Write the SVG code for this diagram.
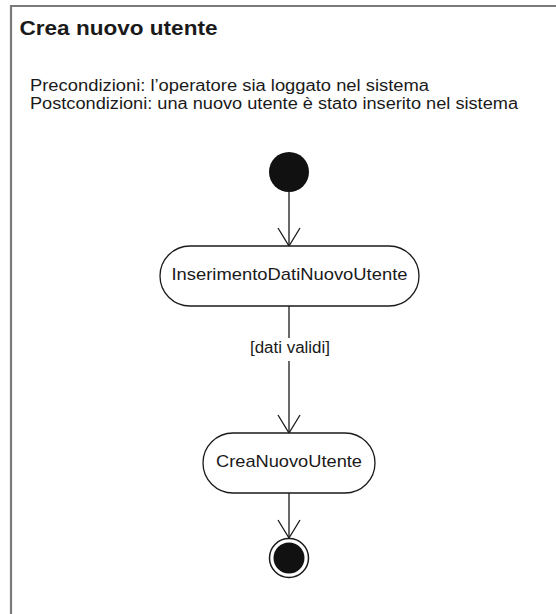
<svg xmlns="http://www.w3.org/2000/svg" width="556" height="614" viewBox="0 0 556 614">
  <style>
    text { font-family: "Liberation Sans", Arial, sans-serif; fill: #1a1a1a; }
    .title { font-size: 19.5px; font-weight: bold; }
    .note { font-size: 16px; }
    .act { fill: #ffffff; stroke: #1a1a1a; stroke-width: 1.3; }
    .actlabel { font-size: 17px; text-anchor: middle; }
    .edge { fill: none; stroke: #1a1a1a; stroke-width: 1.3; marker-end: url(#open); }
    .guard { font-size: 16px; text-anchor: middle; }
  </style>
  <defs>
    <marker id="open" markerUnits="userSpaceOnUse" markerWidth="24" markerHeight="26" viewBox="-20 -13 24 26" refX="0" refY="0" orient="auto" overflow="visible">
      <path d="M-18,-11 L0,0 L-18,11" fill="none" stroke="#1a1a1a" stroke-width="1.3"/>
    </marker>
  </defs>

  <rect width="556" height="614" fill="#ffffff"/>

  <!-- diagram frame -->
  <g id="frame">
    <path d="M11,614 V6 H556" fill="none" stroke="#7a7a7a" stroke-width="2.2"/>
    <text class="title" x="19.5" y="35" textLength="198" lengthAdjust="spacingAndGlyphs">Crea nuovo utente</text>
    <text class="note" x="30" y="90.5" textLength="399" lengthAdjust="spacingAndGlyphs">Precondizioni: l’operatore sia loggato nel sistema</text>
    <text class="note" x="30" y="109" textLength="488" lengthAdjust="spacingAndGlyphs">Postcondizioni: una nuovo utente è stato inserito nel sistema</text>
  </g>

  <!-- control flows -->
  <g id="edges">
    <path class="edge" d="M289,192 V246"/>
    <path class="edge" d="M289,306 V433"/>
    <rect x="248" y="338" width="84" height="23" fill="#ffffff"/>
    <text class="guard" x="290" y="353" textLength="80" lengthAdjust="spacingAndGlyphs">[dati validi]</text>
    <path class="edge" d="M289,493 V538"/>
  </g>

  <g id="initial">
    <circle cx="289" cy="172" r="20" fill="#111111"/>
  </g>

  <g id="inserimentoDati">
    <rect class="act" x="160" y="246" width="259" height="60" rx="30" ry="30"/>
    <text class="actlabel" x="289.5" y="280" textLength="236" lengthAdjust="spacingAndGlyphs">InserimentoDatiNuovoUtente</text>
  </g>

  <g id="creaUtente">
    <rect class="act" x="203" y="433" width="172" height="60" rx="30" ry="30"/>
    <text class="actlabel" x="289" y="467" textLength="146" lengthAdjust="spacingAndGlyphs">CreaNuovoUtente</text>
  </g>

  <g id="final">
    <circle cx="289" cy="558" r="19.5" fill="#ffffff" stroke="#1a1a1a" stroke-width="1.5"/>
    <circle cx="289" cy="558" r="15.5" fill="#111111"/>
  </g>
</svg>
